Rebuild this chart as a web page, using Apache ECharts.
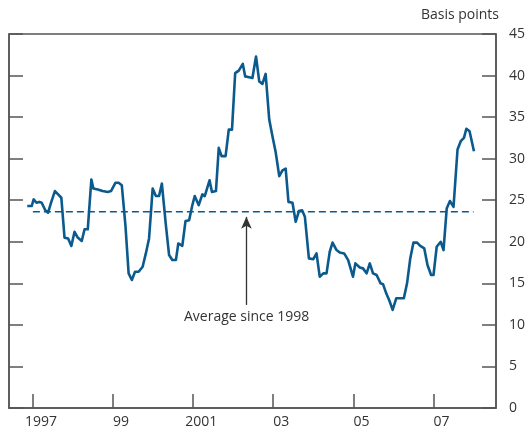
<!DOCTYPE html>
<html>
<head>
<meta charset="utf-8">
<script src="https://cdn.jsdelivr.net/npm/echarts@6/dist/echarts.min.js"></script>
<style>html,body{margin:0;padding:0;background:#fff}#c{width:528px;height:429px}</style>
</head>
<body>
<div id="c"></div>
<script>
// decimal-year positions of the series points
var years = [1996.86,1996.97,1997.02,1997.09,1997.16,1997.22,1997.31,1997.38,1997.46,1997.55,1997.63,1997.71,1997.79,1997.88,1997.96,
1998.04,1998.12,1998.22,1998.29,1998.37,1998.46,1998.51,1998.62,1998.74,1998.87,1998.95,
1999.06,1999.14,1999.22,1999.31,1999.39,1999.47,1999.55,1999.64,1999.74,1999.82,1999.90,1999.99,
2000.07,2000.15,2000.22,2000.32,2000.40,2000.48,2000.57,2000.63,2000.73,2000.81,2000.90,2000.98,
2001.04,2001.14,2001.23,2001.29,2001.41,2001.47,2001.57,2001.64,2001.71,2001.81,2001.89,2001.97,
2002.05,2002.14,2002.24,2002.30,2002.40,2002.48,2002.57,2002.65,2002.73,2002.81,2002.90,2002.98,
2003.06,2003.15,2003.23,2003.31,2003.38,2003.48,2003.56,2003.64,2003.72,2003.79,2003.89,2004.00,
2004.08,2004.16,2004.25,2004.33,2004.41,2004.48,2004.58,2004.66,2004.77,2004.87,2004.99,
2005.05,2005.16,2005.24,2005.33,2005.41,2005.49,2005.58,2005.68,2005.74,2005.82,2005.90,2005.98,
2006.07,2006.17,2006.26,2006.34,2006.42,2006.50,2006.59,2006.67,2006.77,2006.85,2006.94,2007.00,
2007.08,2007.18,2007.25,2007.33,2007.41,2007.50,2007.60,2007.68,2007.76,2007.82,2007.90,2008.01];
// spread, basis points
var values = [24.3,24.3,25.1,24.7,24.8,24.7,23.8,23.5,24.8,26.1,25.7,25.3,20.5,20.4,19.5,
21.2,20.5,20.1,21.5,21.5,27.5,26.4,26.3,26.1,26.0,26.1,
27.1,27.1,26.8,22.0,16.2,15.4,16.4,16.4,17.0,18.6,20.4,26.4,
25.5,25.5,27.0,22.0,18.4,17.8,17.8,19.8,19.5,22.5,22.6,24.4,
25.5,24.4,25.7,25.5,27.4,26.0,26.1,31.3,30.3,30.3,33.5,33.5,
40.3,40.6,41.4,39.9,39.8,39.7,42.3,39.3,39.0,40.2,34.7,32.7,
30.8,27.9,28.6,28.8,24.8,24.7,22.4,23.7,23.8,23.0,18.0,17.9,
18.6,15.8,16.2,16.2,18.8,19.9,19.0,18.7,18.6,17.8,15.8,
17.4,16.9,16.8,16.2,17.4,16.2,16.0,15.0,14.9,13.8,12.9,11.8,
13.2,13.2,13.2,15.0,18.0,19.9,19.9,19.5,19.2,17.2,16.0,16.0,
19.4,20.0,19.0,24.0,24.9,24.2,31.1,32.1,32.5,33.6,33.3,30.9];
var averageValue = 23.6;
var averageRange = [1997.0, 2008.0];
var xTickYears = [1997, 1999, 2001, 2003, 2005, 2007];
var xTickLabels = ['1997', '99', '2001', '03', '05', '07'];
var labelShift = 0.2; // labels sit slightly right of their ticks in the original
var arrowYear = 2002.33;
var arrowFrom = 12.4, arrowTo = 23.0;

var lineData = years.map(function(y, i){ return [y, values[i]]; });
var avgData = averageRange.map(function(y){ return [y, averageValue]; });
var labelPos = xTickYears.map(function(y){ return y + labelShift; });

var chart = echarts.init(document.getElementById('c'), null, {renderer:'canvas'});
var axisCol = '#555555', textCol = '#333333', blue = '#0b5a8e';
var font = "'Open Sans', 'Noto Sans', sans-serif";
chart.setOption({
  animation: false,
  grid: {left: 9, right: 29, top: 34, bottom: 18, show: true, borderColor: axisCol, borderWidth: 1.5, backgroundColor: 'transparent'},
  xAxis: {
    type: 'value', min: 1996.404, max: 2008.56,
    splitLine: {show: false},
    axisLine: {show: true, lineStyle: {color: axisCol, width: 1.5}},
    axisTick: {show: true, inside: true, length: 14, customValues: xTickYears, lineStyle: {color: axisCol, width: 1.5}},
    axisLabel: {show: true, customValues: labelPos, margin: 7, color: textCol, fontSize: 14, fontFamily: font,
      formatter: function(v){
        var best = 0, d = 1e9;
        for (var i = 0; i < labelPos.length; i++) { var dd = Math.abs(labelPos[i] - v); if (dd < d) { d = dd; best = i; } }
        return xTickLabels[best];
      }}
  },
  yAxis: [{
    type: 'value', position: 'right', min: 0, max: 45, interval: 5,
    splitLine: {show: false},
    axisLine: {show: true, lineStyle: {color: axisCol, width: 1.5}},
    axisTick: {show: true, inside: true, length: 14, lineStyle: {color: axisCol, width: 1.5}},
    axisLabel: {show: true, margin: 13, color: textCol, fontSize: 14, fontFamily: font, align: 'left'}
  }, {
    type: 'value', position: 'left', min: 0, max: 45, interval: 5,
    splitLine: {show: false},
    axisLine: {show: true, lineStyle: {color: axisCol, width: 1.5}},
    axisTick: {show: true, inside: true, length: 14, lineStyle: {color: axisCol, width: 1.5}},
    axisLabel: {show: false}
  }],
  series: [{
    type: 'line', data: avgData, symbol: 'none', silent: true,
    lineStyle: {color: blue, width: 1.5, type: [7, 4]},
    markLine: {
      silent: true, symbol: ['none', 'arrow'], symbolSize: [8, 12],
      lineStyle: {color: '#333333', width: 1.3, type: 'solid'},
      label: {show: false},
      data: [[{coord: [arrowYear, arrowFrom]}, {coord: [arrowYear, arrowTo]}]]
    }
  }, {
    type: 'line', data: lineData, symbol: 'none', silent: true,
    lineStyle: {color: blue, width: 2.6, join: 'round'}
  }],
  graphic: [{
    type: 'text', right: 29, top: 8,
    style: {text: 'Basis points', fill: textCol, fontSize: 14, fontFamily: font}
  }, {
    type: 'text', left: 184, top: 310,
    style: {text: 'Average since 1998', fill: textCol, fontSize: 14, fontFamily: font}
  }]
});
</script>
</body>
</html>
